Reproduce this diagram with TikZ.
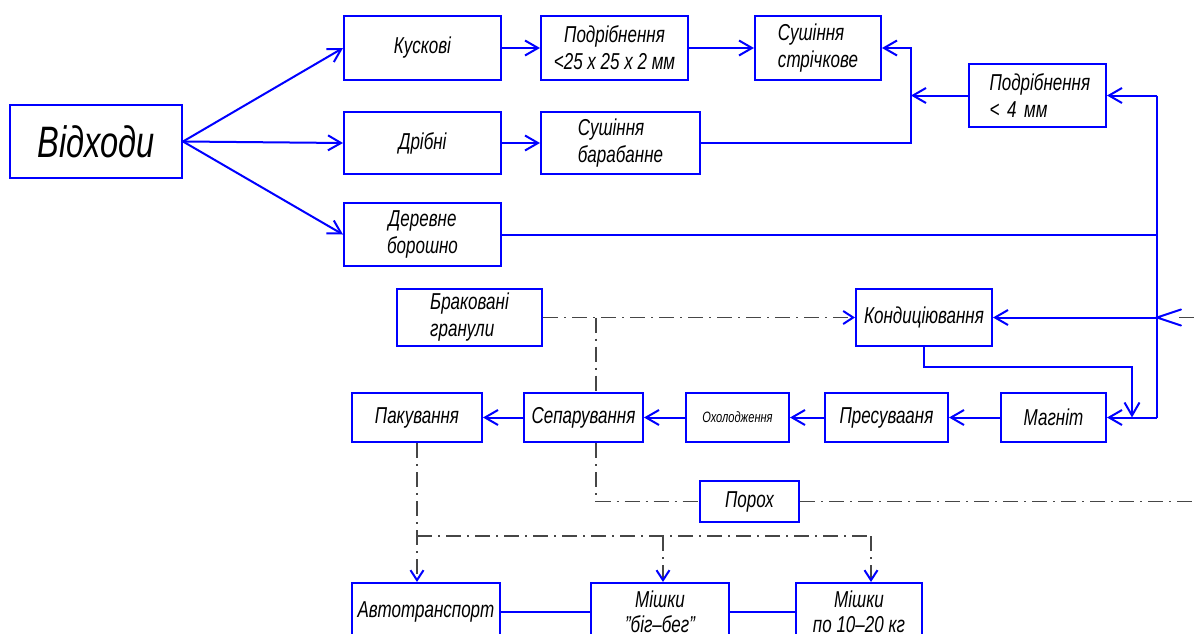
\documentclass[tikz,border=0pt]{standalone}
\usepackage{fontspec}
\setmainfont{Liberation Sans}[FakeStretch=0.74]
\usetikzlibrary{arrows.meta,calc}
\definecolor{ln}{RGB}{0,0,255}
\definecolor{ddc}{RGB}{70,70,70}
\begin{document}
\begin{tikzpicture}[x=1pt,y=-1pt,
  box/.style={draw=ln, line width=2pt, inner sep=0pt, align=center, text=black,
    font=\fontsize{23}{27}\selectfont\itshape},
  wire/.style={draw=ln, line width=2pt},
  conn/.style={wire, -{Straight Barb[length=13pt,width=15pt,line width=2pt]}},
  dd/.style={draw=ddc, line width=1.2pt, dash pattern=on 15pt off 6pt on 2pt off 6pt},
  ddarrow/.style={dd, -{Straight Barb[length=10pt,width=13pt,line width=2pt,color=ln]}}]
\useasboundingbox (0,0) rectangle (1194,634);
\clip (0,0) rectangle (1194,634);

% nodes
\node[box, minimum width=172, minimum height=73, font=\fontsize{44}{50}\selectfont\itshape] (vidh) at (96,141.5) {Відходи};
\node[box, minimum width=157, minimum height=64] (kusk) at (422.5,48) {Кускові};
\node[box, minimum width=147, minimum height=64] (podr1) at (614.5,48) {Подрібнення\\<25 x 25 x 2 мм};
\node[box, minimum width=126, minimum height=64, align=left] (sush1) at (818,48) {Сушіння\\стрічкове};
\node[box, minimum width=137, minimum height=63, align=left, text width=112] (podr2) at (1037.5,95.5) {\hspace*{8pt}Подрібнення\\\hspace*{8pt}< 4 мм};
\node[box, minimum width=157, minimum height=62] (dribni) at (422.5,143) {Дрібні};
\node[box, minimum width=159, minimum height=62, align=left] (sush2) at (620.5,143) {Сушіння\\барабанне};
\node[box, minimum width=157, minimum height=63] (derev) at (422.5,234.5) {Деревне\\борошно};
\node[box, minimum width=145, minimum height=57, align=left] (brak) at (469.5,317.5) {Браковані\\гранули};
\node[box, minimum width=136, minimum height=57] (kond) at (924,317.5) {Кондиціювання};
\node[box, minimum width=130, minimum height=49] (pakuv) at (417,417.5) {Пакування};
\node[box, minimum width=119, minimum height=49] (separ) at (583.5,417.5) {Сепарування};
\node[box, minimum width=103, minimum height=49, font=\fontsize{15}{18}\selectfont\itshape] (okhol) at (737.5,417.5) {Охолодження};
\node[box, minimum width=123, minimum height=49] (press) at (886.5,417.5) {Пресувааня};
\node[box, minimum width=105, minimum height=49] (magnit) at (1053.5,417.5) {Магніт};
\node[box, minimum width=99, minimum height=41] (poroh) at (749.5,501.5) {Порох};
\node[box, minimum width=148, minimum height=57] (avto) at (426,611.5) {Автотранспорт};
\node[box, minimum width=138, minimum height=57, font=\fontsize{23}{25}\selectfont\itshape] (mbig) at (660,611.5) {Мішки\\"біг–бег"};
\node[box, minimum width=126, minimum height=57, font=\fontsize{23}{25}\selectfont\itshape] (m1020) at (859,611.5) {Мішки\\по 10–20 кг};

% junction coordinates
\coordinate (jA) at (911,48);
\coordinate (jB) at (911,95.5);
\coordinate (R1) at (1157,95.5);
\coordinate (R2) at (1157,234.5);
\coordinate (R3) at (1157,317.5);
\coordinate (R4) at (1157,417.5);
\coordinate (jC) at (1132,367);
\coordinate (jD) at (1132,417.5);
\coordinate (bw1) at (1181,309.5);
\coordinate (bw2) at (1181,325.5);
\coordinate (edge1) at (1194,317.5);
\coordinate (edge2) at (1194,501.5);
\coordinate (dj) at (596,317.5);
\coordinate (pj) at (417,536);
\coordinate (pj2) at (663,536);
\coordinate (pj3) at (871,536);

% solid connectors
\draw[conn] (vidh.east) -- (kusk.west);
\draw[conn] (vidh.east) -- (dribni.west);
\draw[conn] (vidh.east) -- (derev.west);
\draw[conn] (kusk) -- (podr1);
\draw[conn] (podr1) -- (sush1);
\draw[conn] (dribni) -- (sush2);
\draw[conn] (sush2.east) -| (jA) -- (sush1.east);
\draw[conn] (podr2.west) -- (jB);
\draw[conn] (R1) -- (podr2.east);
\draw[wire] (R1) -- (R4);
\draw[wire] (derev.east) -- (R2);
\draw[conn] (R3) -- (kond.east);
\draw[conn] (R4) -- (magnit.east);
\draw[conn] (kond.south) |- (jC) -- (jD);
\draw[conn] (magnit) -- (press);
\draw[conn] (press) -- (okhol);
\draw[conn] (okhol) -- (separ);
\draw[conn] (separ) -- (pakuv);
\draw[wire] (avto) -- (mbig);
\draw[wire] (mbig) -- (m1020);

% big incoming arrowhead at the right
\draw[dd] (edge1) -- (1174,317.5);
\draw[wire, line cap=round] (bw1) -- (R3) -- (bw2);

% dash-dot connectors
\draw[ddarrow] (brak.east) -- (kond.west);
\draw[dd] (dj) -- (dj |- separ.north);
\draw[dd] (dj |- separ.south) |- (poroh.west);
\draw[dd] (poroh.east) -- (edge2);
\draw[ddarrow] (pakuv.south) -- (pakuv.south |- avto.north);
\draw[dd] (pj) -- (pj3);
\draw[ddarrow] (pj3) -- (pj3 |- m1020.north);
\draw[ddarrow] (pj2) -- (pj2 |- mbig.north);
\end{tikzpicture}
\end{document}
